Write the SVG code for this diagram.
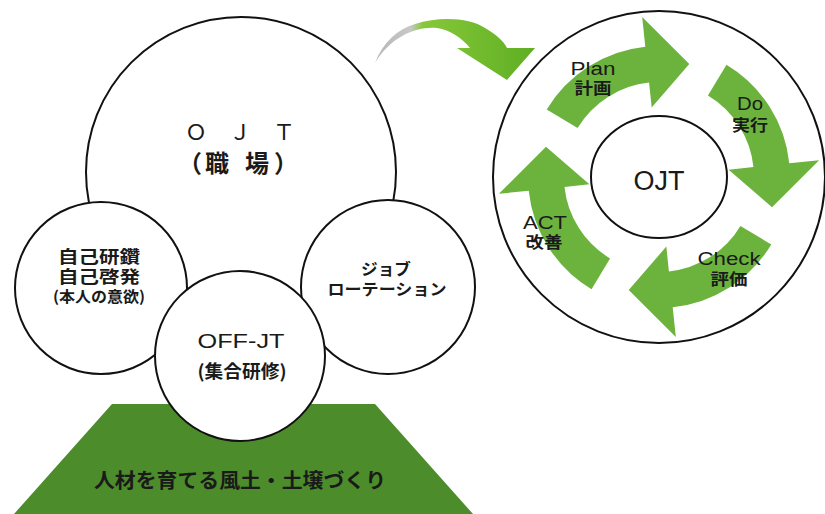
<svg xmlns="http://www.w3.org/2000/svg" xmlns:xlink="http://www.w3.org/1999/xlink" width="825" height="514" viewBox="0 0 825 514">
<style>
  .c { fill: #ffffff; stroke: #111111; stroke-width: 2; }
  .t { font-family: 'Liberation Sans', 'Noto Sans CJK JP', sans-serif; fill: #1a1a1a; text-anchor: middle; }
  .j { font-family: 'Noto Sans CJK JP', sans-serif; fill: #1a1a1a; text-anchor: middle; font-weight: bold; }
  .cyc { fill: #6cb33e; }
</style>
<defs>
  <path id="arr" d="M771.29,244.47 A131,131 0 0 1 672.69,307.28 L675.83,337.12 L628.72,290.01 L666.32,246.62 L668.93,271.48 A95,95 0 0 0 740.43,225.93 Z"/>
  <linearGradient id="topg" x1="375" y1="0" x2="535" y2="0" gradientUnits="userSpaceOnUse">
    <stop offset="0" stop-color="#b5b5b5"/>
    <stop offset="0.22" stop-color="#c8c8c8"/>
    <stop offset="0.3" stop-color="#86c83a"/>
    <stop offset="1" stop-color="#5fae22"/>
  </linearGradient>
</defs>

<g id="base">
  <polygon points="112,404 375,404 473,514 14,514" fill="#4c8c2b"/>
  <text class="j" x="240" y="488" font-size="20" textLength="292" lengthAdjust="spacingAndGlyphs" fill="#1c2a12">人材を育てる風土・土壌づくり</text>
</g>

<g id="ojt-workplace">
  <circle class="c" cx="241" cy="172" r="155"/>
  <text class="t" x="240" y="140" font-size="22" font-family="'Noto Sans CJK JP', sans-serif">Ｏ　Ｊ　Ｔ</text>
  <text class="j" x="178 205 245 274" y="172" font-size="24" style="text-anchor:start">（職場）</text>
</g>

<g id="self-development">
  <circle class="c" cx="101" cy="288" r="86"/>
  <text class="j" x="99" y="263" font-size="17" textLength="82" lengthAdjust="spacingAndGlyphs">自己研鑽</text>
  <text class="j" x="99" y="283" font-size="17" textLength="82" lengthAdjust="spacingAndGlyphs">自己啓発</text>
  <text class="j" x="99" y="302" font-size="15" textLength="92" lengthAdjust="spacingAndGlyphs">(本人の意欲)</text>
</g>

<g id="job-rotation">
  <circle class="c" cx="388" cy="287" r="87"/>
  <text class="j" x="386" y="275" font-size="16" textLength="50" lengthAdjust="spacingAndGlyphs">ジョブ</text>
  <text class="j" x="387" y="295" font-size="16" textLength="119" lengthAdjust="spacingAndGlyphs">ローテーション</text>
</g>

<g id="off-jt">
  <circle class="c" cx="240" cy="356" r="85"/>
  <text class="t" x="241" y="348" font-size="21" textLength="87" lengthAdjust="spacingAndGlyphs">OFF-JT</text>
  <text class="j" x="242" y="378" font-size="18" textLength="89" lengthAdjust="spacingAndGlyphs">(集合研修)</text>
</g>

<g id="pdca">
  <circle class="c" cx="659" cy="177" r="166"/>
  <g id="pdca-arrows" class="cyc">
    <use xlink:href="#arr"/>
    <use xlink:href="#arr" transform="rotate(90 659 177)"/>
    <use xlink:href="#arr" transform="rotate(180 659 177)"/>
    <use xlink:href="#arr" transform="rotate(270 659 177)"/>
  </g>
  <ellipse class="c" cx="659" cy="177" rx="68" ry="61"/>
  <text class="t" x="659" y="190" font-size="27" fill="#1b1b30">OJT</text>
</g>

<g id="plan">
  <text class="t" x="593" y="75" font-size="19" textLength="45" lengthAdjust="spacingAndGlyphs">Plan</text>
  <text class="j" x="593" y="94" font-size="16" textLength="37" lengthAdjust="spacingAndGlyphs">計画</text>
</g>
<g id="do">
  <text class="t" x="750" y="110" font-size="18" textLength="26" lengthAdjust="spacingAndGlyphs">Do</text>
  <text class="j" x="750" y="131" font-size="16" textLength="36" lengthAdjust="spacingAndGlyphs">実行</text>
</g>
<g id="check">
  <text class="t" x="729" y="265" font-size="18" textLength="63" lengthAdjust="spacingAndGlyphs">Check</text>
  <text class="j" x="729" y="285" font-size="16" textLength="37" lengthAdjust="spacingAndGlyphs">評価</text>
</g>
<g id="act">
  <text class="t" x="545" y="229" font-size="18" textLength="44" lengthAdjust="spacingAndGlyphs">ACT</text>
  <text class="j" x="544" y="248" font-size="16" textLength="37" lengthAdjust="spacingAndGlyphs">改善</text>
</g>

<g id="connectors">
  <path d="M375,63 C383,42 398,29 415,24 C440,16 470,18 485,28 C495,34 503,40 507,48 L535,48 L507,80 L457,48 L470,48 C462,38 450,30 437,28 C415,26 390,38 375,63 Z" fill="url(#topg)"/>
</g>
</svg>
